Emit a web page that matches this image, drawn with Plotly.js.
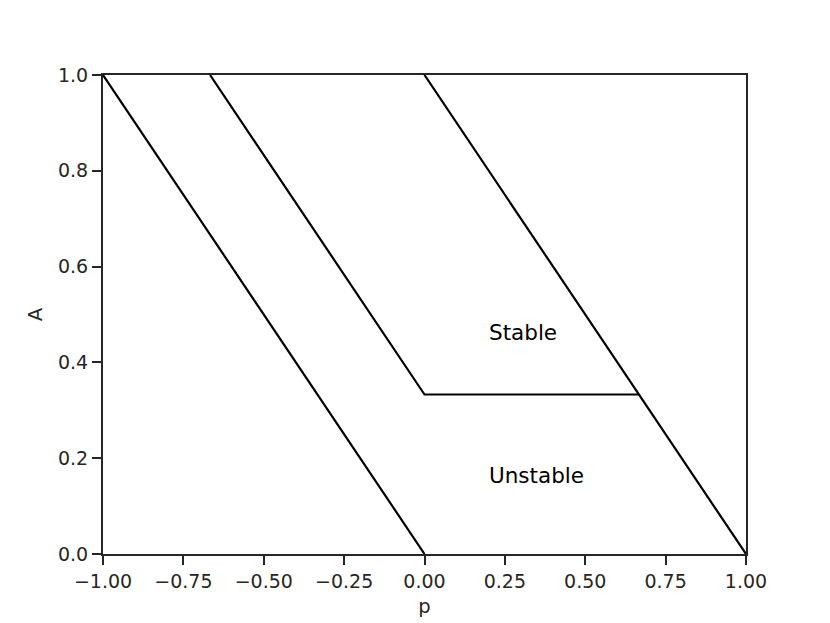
<!DOCTYPE html>
<html>
<head>
<meta charset="utf-8">
<script src="https://cdn.plot.ly/plotly-3.0.1.min.js"></script>
<style>
  html, body { margin: 0; padding: 0; background: #fff; }
  #plotArea { width: 830px; height: 623px; }
</style>
</head>
<body>
<div id="plotArea"></div>
<script>
// stability boundaries in the (p, A) plane
var leftP = [-1, 0];
var leftA = [1, 0];

var middleP = [-0.667, 0, 0.667];
var middleA = [1, 0.333, 0.333];

var rightP = [0, 1];
var rightA = [1, 0];

var xTicks = [-1, -0.75, -0.5, -0.25, 0, 0.25, 0.5, 0.75, 1];
var yTicks = [0, 0.2, 0.4, 0.6, 0.8, 1];

var regionLabels = ["Stable", "Unstable"];
var regionP = [0.2, 0.2];
var regionA = [0.463, 0.163];

var lineStyle = {color: "black", width: 2.2};

var data = [
    {x: leftP, y: leftA, mode: "lines", line: lineStyle, cliponaxis: false},
    {x: middleP, y: middleA, mode: "lines", line: lineStyle, cliponaxis: false},
    {x: rightP, y: rightA, mode: "lines", line: lineStyle, cliponaxis: false}
];

var annotations = regionLabels.map(function(txt, i) {
    return {
        x: regionP[i], y: regionA[i], xref: "x", yref: "y",
        text: txt, showarrow: false, xanchor: "left", yanchor: "middle",
        xshift: -1, borderpad: 0,
        font: {size: 21.5, color: "#000"}
    };
});

var axisCommon = {
    showgrid: false, zeroline: false,
    showline: true, mirror: true, linecolor: "#262626", linewidth: 2,
    ticks: "outside", ticklen: 9, tickwidth: 2, tickcolor: "#262626",
    tickfont: {size: 19, color: "#262626"}
};

var layout = {
    width: 830, height: 623,
    margin: {l: 103, r: 84, t: 75, b: 69},
    paper_bgcolor: "#fff", plot_bgcolor: "#fff",
    showlegend: false,
    font: {family: "DejaVu Sans", color: "#262626"},
    xaxis: Object.assign({}, axisCommon, {
        range: [-1, 1], tickvals: xTicks, tickformat: ".2f",
        title: {text: "p", font: {size: 19.5, color: "#262626"}, standoff: 9}
    }),
    yaxis: Object.assign({}, axisCommon, {
        range: [0, 1], tickvals: yTicks, tickformat: ".1f",
        title: {text: "A", font: {size: 19.5, color: "#262626"}, standoff: 10}
    }),
    annotations: annotations
};

Plotly.newPlot("plotArea", data, layout, {displayModeBar: false, staticPlot: true});
</script>
</body>
</html>
